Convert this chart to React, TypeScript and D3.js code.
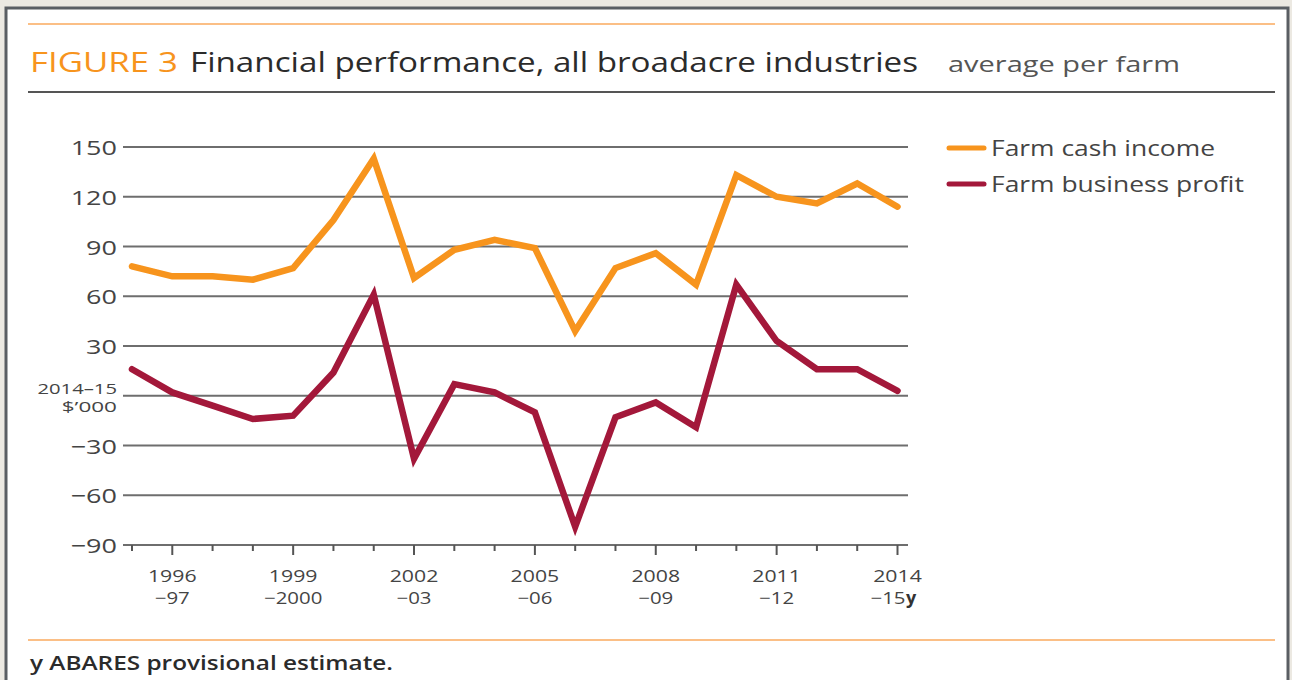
import React, { useEffect, useRef } from 'react';
import * as d3 from 'd3';

// financial years, 1995-96 to 2014-15
const years = [
  '1995-96', '1996-97', '1997-98', '1998-99', '1999-00', '2000-01', '2001-02',
  '2002-03', '2003-04', '2004-05', '2005-06', '2006-07', '2007-08', '2008-09',
  '2009-10', '2010-11', '2011-12', '2012-13', '2013-14', '2014-15',
];
// $'000 (2014-15 dollars), average per farm
const cashIncome = [78, 72, 72, 70, 77, 106, 143, 71, 88, 94, 89, 39, 77, 86, 67, 133, 120, 116, 128, 114];
const businessProfit = [16, 2, -6, -14, -12, 14, 61, -38, 7, 2, -10, -79, -13, -4, -19, 67, 33, 16, 16, 3];

const majorYears = ['1996-97', '1999-00', '2002-03', '2005-06', '2008-09', '2011-12', '2014-15'];
const majorLabels = [
  ['1996', '\u221297'],
  ['1999', '\u22122000'],
  ['2002', '\u221203'],
  ['2005', '\u221206'],
  ['2008', '\u221209'],
  ['2011', '\u221212'],
  ['2014', '\u221215'],
];
const yTicks = [-90, -60, -30, 0, 30, 60, 90, 120, 150];
const seriesNames = ['Farm cash income', 'Farm business profit'];

const ORANGE = '#f7941d';
const CRIMSON = '#a3183a';
const FONT = "'Open Sans', 'DejaVu Sans', sans-serif";

// the original face is wider than Open Sans, so stretch text a bit
const widen = (sel: any, k: number) =>
  sel.each(function (this: SVGTextElement) {
    const w = this.getComputedTextLength();
    d3.select(this).attr('textLength', w * k).attr('lengthAdjust', 'spacingAndGlyphs');
  });

const App = () => {
  const ref = useRef<SVGSVGElement>(null);

  useEffect(() => {
    const svg = d3.select(ref.current);
    svg.selectAll('*').remove();

    // frame
    svg.append('rect').attr('width', 1292).attr('height', 680).attr('fill', '#ece9e2');
    svg
      .append('rect')
      .attr('x', 6)
      .attr('y', 8)
      .attr('width', 1282)
      .attr('height', 690)
      .attr('fill', '#fff')
      .attr('stroke', '#5a5e63')
      .attr('stroke-width', 3);

    // header
    svg.append('line').attr('x1', 28).attr('x2', 1275).attr('y1', 24).attr('y2', 24)
      .attr('stroke', '#fbbf86').attr('stroke-width', 2);
    svg.append('line').attr('x1', 28).attr('x2', 1275).attr('y1', 92).attr('y2', 92)
      .attr('stroke', '#555').attr('stroke-width', 2);
    svg.append('text').attr('x', 30).attr('y', 72)
      .attr('font-family', FONT).attr('font-size', 27).attr('font-weight', 500)
      .attr('fill', ORANGE).attr('textLength', 148).attr('lengthAdjust', 'spacingAndGlyphs')
      .text('FIGURE 3');
    svg.append('text').attr('x', 190).attr('y', 72)
      .attr('font-family', FONT).attr('font-size', 27).attr('font-weight', 500)
      .attr('fill', '#2b2b2b').attr('textLength', 728).attr('lengthAdjust', 'spacingAndGlyphs')
      .text('Financial performance, all broadacre industries');
    svg.append('text').attr('x', 948).attr('y', 72)
      .attr('font-family', FONT).attr('font-size', 22).attr('fill', '#555')
      .attr('textLength', 232).attr('lengthAdjust', 'spacingAndGlyphs')
      .text('average per farm');

    const x = d3.scalePoint().domain(years).range([132, 897.5]);
    const y = d3.scaleLinear().domain([-90, 150]).range([545, 147]);

    // gridlines
    svg.append('g').selectAll('line').data(yTicks).enter().append('line')
      .attr('x1', 123).attr('x2', 908)
      .attr('y1', (d) => y(d)).attr('y2', (d) => y(d))
      .attr('stroke', '#6e6e6e').attr('stroke-width', 2);

    // y labels
    const yl = svg.append('g').attr('font-family', FONT).attr('font-size', 20).attr('fill', '#444')
      .attr('text-anchor', 'end')
      .selectAll('text').data(yTicks.filter((d) => d !== 0)).enter().append('text')
      .attr('x', 117).attr('y', (d) => y(d) + 8)
      .text((d) => (d < 0 ? '\u2212' + Math.abs(d) : String(d)));
    widen(yl, 1.35);
    const u1 = svg.append('text').attr('font-family', FONT).attr('font-size', 15)
      .attr('fill', '#444').attr('text-anchor', 'end')
      .attr('x', 117).attr('y', y(0) - 2).text('2014\u201315');
    const u2 = svg.append('text').attr('font-family', FONT).attr('font-size', 15)
      .attr('fill', '#444').attr('text-anchor', 'end')
      .attr('x', 117).attr('y', y(0) + 16).text('$\u2019000');
    widen(u1, 1.35);
    widen(u2, 1.5);

    // x ticks
    svg.append('g').selectAll('line').data(years).enter().append('line')
      .attr('x1', (d) => x(d)!).attr('x2', (d) => x(d)!)
      .attr('y1', y(-90))
      .attr('y2', (d) => y(-90) + (majorYears.includes(d) ? 10 : 6))
      .attr('stroke', '#555').attr('stroke-width', 2);

    const last = years[years.length - 1];
    const xg = svg.append('g').attr('font-family', FONT).attr('font-size', 17)
      .attr('fill', '#444').attr('text-anchor', 'middle');
    const top = xg.selectAll('text.top').data(majorYears).enter().append('text')
      .attr('class', 'top').attr('x', (d) => x(d)!).attr('y', 582)
      .text((_, i) => majorLabels[i][0]);
    widen(top, 1.25);
    const bot = xg.selectAll('text.bot').data(majorYears).enter().append('text')
      .attr('class', 'bot')
      .attr('x', (d) => x(d)! + (d === last ? 8 : 0))
      .attr('text-anchor', (d) => (d === last ? 'end' : 'middle'))
      .attr('y', 604)
      .text((_, i) => majorLabels[i][1]);
    widen(bot, 1.2);
    svg.append('text').attr('x', x(last)! + 8.5).attr('y', 604)
      .attr('font-family', FONT).attr('font-size', 18).attr('font-weight', 700)
      .attr('fill', '#333').text('y');

    // series
    const line = d3.line<number>().x((_, i) => x(years[i])!).y((d) => y(d));
    [cashIncome, businessProfit].forEach((s, i) => {
      svg.append('path').datum(s).attr('d', line).attr('fill', 'none')
        .attr('stroke', i === 0 ? ORANGE : CRIMSON).attr('stroke-width', 6.5)
        .attr('stroke-linejoin', 'miter').attr('stroke-linecap', 'round');
    });

    // legend
    const lg = svg.append('g').selectAll('g').data(seriesNames).enter().append('g')
      .attr('transform', (_, i) => `translate(0,${148 + i * 36})`);
    lg.append('line').attr('x1', 949).attr('x2', 984).attr('y1', 0).attr('y2', 0)
      .attr('stroke', (_, i) => (i === 0 ? ORANGE : CRIMSON)).attr('stroke-width', 5)
      .attr('stroke-linecap', 'round');
    const lt = lg.append('text').attr('x', 991).attr('y', 8).attr('font-family', FONT)
      .attr('font-size', 22).attr('fill', '#444').text((d) => d);
    widen(lt, 1.2);

    // footer
    svg.append('line').attr('x1', 28).attr('x2', 1275).attr('y1', 640).attr('y2', 640)
      .attr('stroke', '#fbbf86').attr('stroke-width', 2);
    svg.append('text').attr('x', 30).attr('y', 670).attr('font-family', FONT)
      .attr('font-size', 19).attr('font-weight', 600).attr('fill', '#2b2b2b')
      .attr('textLength', 363).attr('lengthAdjust', 'spacingAndGlyphs')
      .text('y ABARES provisional estimate.');
  }, []);

  return (
    <svg ref={ref} width={1292} height={680}
      style={{ position: 'fixed', left: 0, top: 0, display: 'block' }} />
  );
};

export default App;
